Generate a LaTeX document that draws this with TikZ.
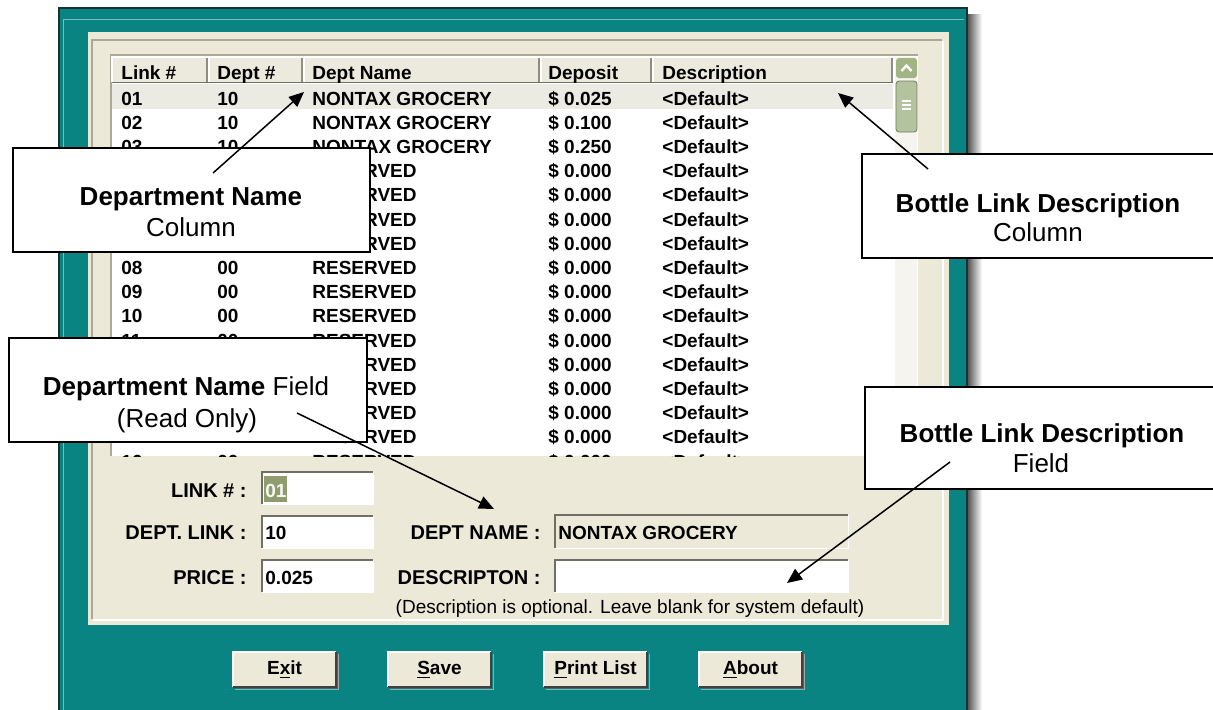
\documentclass[tikz,border=0pt]{standalone}
\usepackage{fontspec}
\setmainfont{Liberation Sans}
\usetikzlibrary{arrows.meta}

\definecolor{winteal}{RGB}{9,132,130}
\definecolor{winedge}{RGB}{28,50,50}
\definecolor{panelbg}{RGB}{236,233,216}
\definecolor{hdrbg}{RGB}{235,234,220}
\definecolor{selrow}{RGB}{236,235,227}
\definecolor{etchdark}{RGB}{172,168,153}
\definecolor{sunkdark}{RGB}{113,111,100}
\definecolor{scrollbtn}{RGB}{160,180,132}
\definecolor{scrolltrack}{RGB}{245,244,238}
\definecolor{selgreen}{RGB}{143,157,110}

\tikzset{
  listtxt/.style={anchor=base west, inner sep=0pt, font=\fontsize{9.5}{11}\selectfont\bfseries},
  formlbl/.style={anchor=base east, inner sep=0pt, font=\fontsize{10}{12}\selectfont\bfseries},
  fieldtxt/.style={anchor=base west, inner sep=0pt, font=\fontsize{9.5}{11}\selectfont\bfseries},
  fieldbox/.style={fill=white, inner sep=0pt},
  calloutbox/.style={draw=black, line width=1pt, fill=white, inner sep=0pt},
  callouttext/.style={anchor=base, inner sep=0pt, font=\fontsize{13}{15}\selectfont},
  pointer/.style={line width=0.75pt, -{Triangle[length=7.5pt,width=6.5pt]}},
  winbutton/.style={fill=panelbg, minimum width=51.5pt, minimum height=17.5pt, inner sep=0pt,
                    font=\fontsize{9.5}{11}\selectfont\bfseries},
}

\begin{document}
\begin{tikzpicture}[x=0.5pt,y=-0.5pt]
\useasboundingbox (0,0) rectangle (1213,709);
\fill[white] (0,0) rectangle (1213,709);

% window drop shadow and teal frame
\shade[left color=black!70, right color=white] (967,14) rectangle (982,709);
\fill[winteal] (59,8) rectangle (967,720);
\draw[winedge, line width=1pt] (59,720) |- (967,8) -- (967,720);
\draw[winteal!55!white, line width=0.5pt] (63,720) |- (964,19);

% dialog panel with etched frame
\fill[panelbg] (88,32) rectangle (949,625);
\draw[etchdark, line width=0.6pt] (92,619) |- (942,40);
\draw[white, line width=0.6pt] (93,620) -| (943,41);

% list view
\fill[white] (111,55) rectangle (918,456);
\draw[etchdark, line width=0.6pt] (111,456) |- (918,55);
\fill[scrolltrack] (895,57) rectangle (917,456);

% scroll bar: up button and thumb
\fill[scrollbtn, rounded corners=1.5pt] (896,58) rectangle (917,78);
\draw[white, line width=1.2pt] (901.5,71) -- (906.5,65.5) -- (911.5,71);
\fill[scrollbtn!80!white, rounded corners=1.5pt] (896,81) rectangle (917,132);
\draw[scrollbtn!70!black, rounded corners=1.5pt, line width=0.4pt] (896,81) rectangle (917,132);
\foreach \gy in {101,105,109} \draw[white, line width=0.6pt] (902,\gy) -- (911,\gy);

% column header
\fill[hdrbg] (112,57) rectangle (893,82);
\draw[white, line width=0.6pt] (112,82) |- (893,57);
\draw[sunkdark, line width=0.8pt] (112,82.5) -- (893,82.5);
\foreach \sx in {207,302,539,651,892} {
  \draw[sunkdark!80, line width=0.8pt] (\sx,58) -- (\sx,82);
  \draw[white, line width=0.6pt] (\sx+2,58) -- (\sx+2,82);
}
\node[listtxt] (hLink)    at (121,79) {Link \#};
\node[listtxt] (hDept)    at (217,79) {Dept \#};
\node[listtxt] (hName)    at (312,79) {Dept Name};
\node[listtxt] (hDeposit) at (548,79) {Deposit};
\node[listtxt] (hDesc)    at (662,79) {Description};

% list rows (link and dept cells that lie wholly under a callout are left out)
\fill[selrow] (112,84) rectangle (893,109);
\begin{scope}
  \clip (112,83) rectangle (893,456);
  \foreach \lk/\dp/\nm/\dv [count=\i from 0] in {
      01/10/NONTAX GROCERY/0.025, 02/10/NONTAX GROCERY/0.100, 03/10/NONTAX GROCERY/0.250,
      04/00/RESERVED/0.000, 05/00/RESERVED/0.000, 06/00/RESERVED/0.000, 07/00/RESERVED/0.000,
      08/00/RESERVED/0.000, 09/00/RESERVED/0.000, 10/00/RESERVED/0.000, 11/00/RESERVED/0.000,
      12/00/RESERVED/0.000, 13/00/RESERVED/0.000, 14/00/RESERVED/0.000, 15/00/RESERVED/0.000,
      16/00/RESERVED/0.000} {
    \pgfmathsetmacro\yb{105+\i*24.2}
    \pgfmathtruncatemacro\covered{((\i>2)&&(\i<7))||((\i>10)&&(\i<15)) ? 1 : 0}
    \ifnum\covered=0
      \node[listtxt] (lk\i) at (121,\yb) {\lk};
      \node[listtxt] (dp\i) at (217,\yb) {\dp};
    \fi
    \node[listtxt] (nm\i) at (312,\yb) {\nm};
    \node[listtxt] (dv\i) at (548,\yb) {\$ \dv};
    \node[listtxt] (ds\i) at (662,\yb) {\textless Default\textgreater};
  }
\end{scope}

% edit form
\node[fieldbox, minimum width=55.5pt, minimum height=16pt] (linkbox)  at (317.5,488) {};
\node[fieldbox, minimum width=55.5pt, minimum height=16pt] (deptbox)  at (317.5,532) {};
\node[fieldbox, minimum width=55.5pt, minimum height=16pt] (pricebox) at (317.5,576) {};
\node[fieldbox, fill=panelbg, minimum width=146.5pt, minimum height=16.5pt] (namebox) at (701.5,531.5) {};
\node[fieldbox, minimum width=146.5pt, minimum height=16pt] (descbox) at (701.5,576) {};
\foreach \b in {linkbox,deptbox,pricebox,namebox,descbox} {
  \draw[sunkdark, line width=1pt] (\b.south west) |- (\b.north east);
  \draw[white, line width=0.8pt] (\b.south west) -| (\b.north east);
}
\fill[selgreen] (264,476) rectangle (287,502);
\node[fieldtxt, text=white!92!selgreen] (linkval) at (265,497) {01};
\node[fieldtxt] (deptval)  at (265,539) {10};
\node[fieldtxt] (priceval) at (265,584) {0.025};
\node[fieldtxt] (nameval)  at (558,539) {NONTAX GROCERY};

\node[formlbl] (linklbl)  at (247,497) {LINK \# :};
\node[formlbl] (deptlbl)  at (247,539) {DEPT. LINK :};
\node[formlbl] (pricelbl) at (247,584) {PRICE :};
\node[formlbl] (namelbl)  at (541,539) {DEPT NAME :};
\node[formlbl] (desclbl)  at (541,584) {DESCRIPTON :};
\node[anchor=base, inner sep=0pt, font=\fontsize{9.5}{11}\selectfont] (descnote) at (630,613)
  {(Description is optional. Leave blank for system default)};

% dialog buttons
\foreach \bx/\bn/\bt in {284.5/bExit/E\underline{x}it, 439.5/bSave/\underline{S}ave,
                         595.5/bPrint/\underline{P}rint List, 750.5/bAbout/\underline{A}bout} {
  \node[winbutton] (\bn) at (\bx,669.5) {\bt};
  \draw[white, line width=1pt] (\bn.south west) |- (\bn.north east);
  \draw[black!75, line width=1pt] (\bn.south west) -| (\bn.north east);
  \draw[black!35, line width=0.8pt] ([xshift=1.2pt,yshift=-1pt]\bn.south west) -| ([xshift=1pt,yshift=-1.2pt]\bn.north east);
}

% callout boxes
\node[calloutbox, minimum width=178.5pt, minimum height=52pt] (cDeptCol) at (191.5,200) {};
\node[callouttext] (cDeptColA) at (191,205) {\bfseries Department Name};
\node[callouttext] (cDeptColB) at (191,236) {Column};

\node[calloutbox, minimum width=177pt, minimum height=52pt] (cDescCol) at (1039,206) {};
\node[callouttext] (cDescColA) at (1038,212) {\bfseries Bottle Link Description};
\node[callouttext] (cDescColB) at (1038,241) {Column};

\node[calloutbox, minimum width=179pt, minimum height=52pt] (cDeptFld) at (188,390) {};
\node[callouttext] (cDeptFldA) at (186,395) {\textbf{Department Name} Field};
\node[callouttext] (cDeptFldB) at (187,427) {(Read Only)};

\node[calloutbox, minimum width=175pt, minimum height=51pt] (cDescFld) at (1040,438) {};
\node[callouttext] (cDescFldA) at (1042,442) {\bfseries Bottle Link Description};
\node[callouttext] (cDescFldB) at (1041,472) {Field};

% pointers
\coordinate (p1s) at (213,173);  \coordinate (p1t) at (304,92);
\coordinate (p2s) at (928,169);  \coordinate (p2t) at (838,93);
\coordinate (p3s) at (297,413);  \coordinate (p3t) at (494,509);
\coordinate (p4s) at (950,462);  \coordinate (p4t) at (787,583);
\draw[pointer] (p1s) -- (p1t);
\draw[pointer] (p2s) -- (p2t);
\draw[pointer] (p3s) -- (p3t);
\draw[pointer] (p4s) -- (p4t);
\end{tikzpicture}
\end{document}
